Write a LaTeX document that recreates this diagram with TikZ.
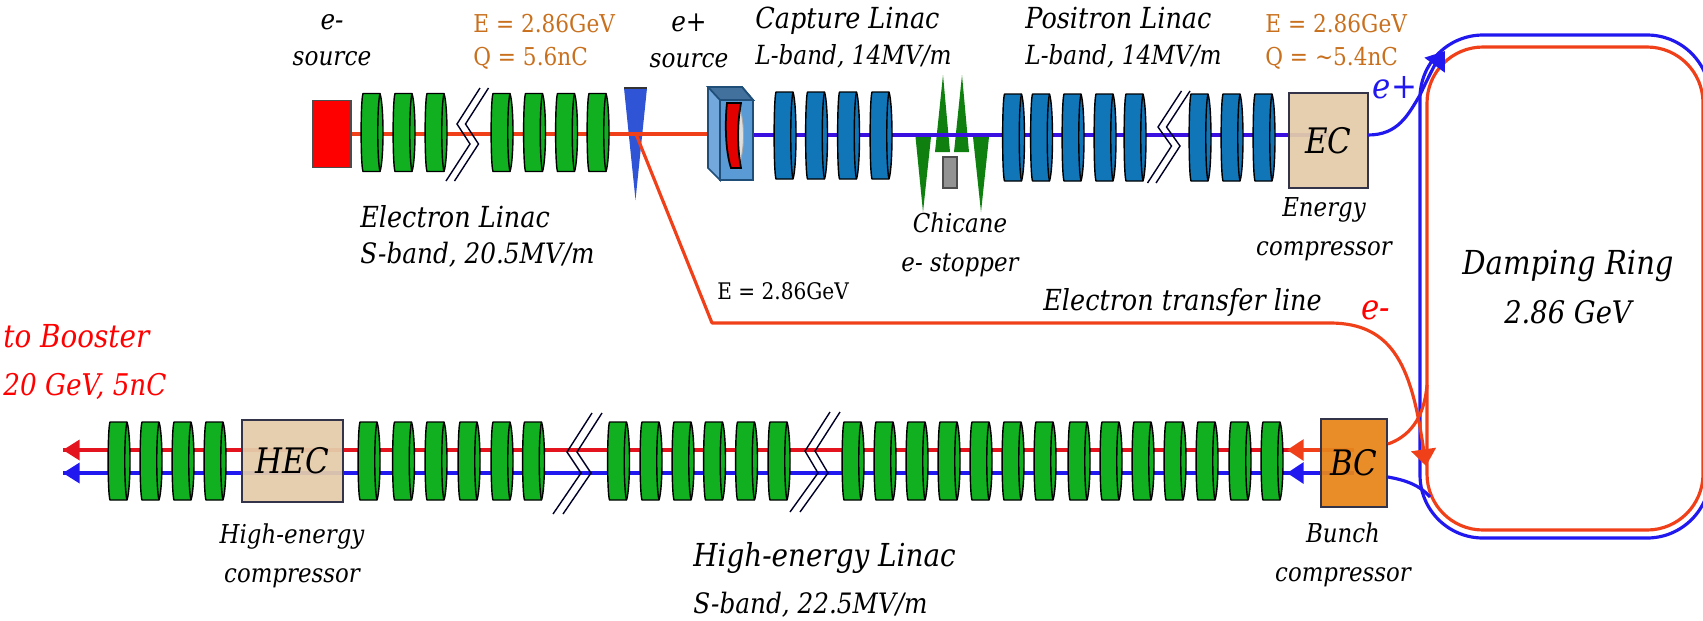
\documentclass[tikz,border=0pt]{standalone}
\usepackage{fontspec}
\setmainfont{DejaVu Serif}[FakeStretch=0.88]
\usetikzlibrary{arrows.meta, backgrounds}

\definecolor{cellgreen}{HTML}{10B020}
\definecolor{cellblue}{HTML}{1076B8}
\definecolor{boxtan}{HTML}{E3CCAA}
\definecolor{boxorange}{HTML}{E8861C}
\definecolor{boxedge}{HTML}{33334A}
\definecolor{beamred}{HTML}{F0401A}
\definecolor{rowred}{HTML}{E4141E}
\definecolor{beamblue}{HTML}{2018EE}
\definecolor{linacblue}{HTML}{3A10E0}
\definecolor{volt}{HTML}{C8701E}
\definecolor{chicgreen}{HTML}{0F7F0F}
\definecolor{wedgeblue}{HTML}{2F55D6}
\definecolor{ptfront}{HTML}{5B9BD5}
\definecolor{ptside}{HTML}{72A8DC}
\definecolor{pttop}{HTML}{41719C}
\definecolor{ptedge}{HTML}{1F4E79}

\newcommand{\namesize}{\fontsize{16.5}{20.5}\selectfont}
\newcommand{\bandsize}{\fontsize{15}{20.5}\selectfont}
% x, y, half height, colour
\newcommand{\cavity}[4]{
  \draw[black, line width=0.8pt, line join=round, fill=#4] (#1-9,#2-#3) .. controls (#1-11.5,#2-#3+7) and (#1-11.5,#2+#3-7) .. (#1-9,#2+#3)
    -- (#1+8,#2+#3) .. controls (#1+12,#2+#3-12) and (#1+12,#2-#3+12) .. (#1+8,#2-#3) -- cycle;
  \draw[black, line width=0.8pt] (#1+8,#2-#3) .. controls (#1+5,#2-#3+12) and (#1+5,#2+#3-12) .. (#1+8,#2+#3);
}

\tikzset{
  block/.style={draw=boxedge, line width=1pt, inner sep=0pt, fill=boxtan, fill opacity=0.94, text opacity=1,
    font=\itshape\fontsize{20}{24}\selectfont},
  lbl/.style={inner sep=0pt, font=\itshape\bandsize},
  small/.style={inner sep=0pt, font=\itshape\fontsize{14.8}{22}\selectfont},
  energy/.style={inner sep=0pt, text=volt, font=\fontsize{14}{18.5}\selectfont},
  redbeam/.style={beamred, line width=1.8pt},
  bluebeam/.style={beamblue, line width=1.8pt},
  gap/.style={line width=0.8pt, black!85!blue}
}

\begin{document}
\begin{tikzpicture}[x=0.02cm, y=-0.02cm]
\useasboundingbox (0,0) rectangle (1703,620);
\clip (0,0) rectangle (1703,620);

% Electron Linac
\node[draw=black!70, line width=1pt, fill=red, minimum width=0.76cm, minimum height=1.34cm, inner sep=0pt] (esource) at (332,134) {};
\foreach \x in {372,404,436,502,534.5,566.5,598} {
  \cavity{\x}{132.5}{39}{cellgreen}
}

% Positron source
\fill[black!80] (624,87) rectangle (647,89);
\coordinate (split) at (636,134);
\coordinate (ptin) at (708,134);
\draw[line width=1pt, fill=ptside, draw=ptedge] (708,87) -- (742,87) -- (753,100) -- (720,100) -- (720,180) -- (708,168) -- cycle;
\draw[line width=1pt, fill=pttop, draw=ptedge] (708,87) -- (742,87) -- (753,100) -- (720,100) -- cycle;
\node[draw=ptedge, line width=1pt, fill=ptfront, minimum width=0.66cm, minimum height=1.6cm, inner sep=0pt] (ptbox) at (736.5,140) {};
\draw[gray!70, fill=gray!25, line width=0.5pt] (739,104) .. controls (745,125) and (745,146) .. (739,167) -- cycle;
\draw[black, fill=red!90!black, line width=1pt] (727,103) -- (741,103) .. controls (737,125) and (737,146) .. (741,168) -- (731,168) .. controls (725,150) and (725,120) .. (727,103) -- cycle;
\coordinate (ptout) at (753,135);

% Capture and Positron Linac
\foreach \x in {785,816.5,848.5,881} {
  \cavity{\x}{135.5}{43.5}{cellblue}
}
\foreach \x in {1013.5,1041.5,1073,1105,1135,1200,1232,1264} {
  \cavity{\x}{137.5}{43.5}{cellblue}
}
\node[block, minimum width=1.58cm, minimum height=1.9cm] (EC) at (1328.5,140.5) {EC};

% Chicane
\node[draw=black!70, line width=1pt, fill=gray!85, minimum width=0.28cm, minimum height=0.62cm, inner sep=0pt] (stopper) at (950,172.5) {};

% High-energy Linac
\foreach \x in {119,151,183,215,369,403.5,436,469,502,533.5,618.5,651,683,714.5,746.5,779} {
  \cavity{\x}{461}{39}{cellgreen}
}
\foreach \x in {853,885,917,949,981,1013,1045,1079,1111,1143,1175,1207,1240,1272} {
  \cavity{\x}{461}{39}{cellgreen}
}
\node[block, minimum width=2.02cm, minimum height=1.64cm] (HEC) at (292.5,461) {HEC};
\node[block, fill=boxorange, minimum width=1.32cm, minimum height=1.76cm] (BC) at (1354,463) {BC};

\coordinate (redend) at (63,450);
\coordinate (blueend) at (63,473);
\coordinate (redtip) at (1287,450);
\coordinate (bluetip) at (1287,473);

\begin{pgfonlayer}{background}
  % Chicane magnets and target
  \fill[chicgreen] (915.5,137) -- (931,137) -- (923,212) -- cycle;
  \fill[chicgreen] (973,137) -- (989,137) -- (981,212) -- cycle;
  \fill[chicgreen] (935,152) -- (950,152) -- (943,75) -- cycle;
  \fill[chicgreen] (954,152) -- (969,152) -- (962,75) -- cycle;
  \fill[wedgeblue] (624,88) -- (647,88) -- (635.5,200) -- cycle;
  % Beam lines
  \draw[redbeam] (esource) -- (ptin);
  \draw[linacblue, line width=1.8pt] (ptout) -- (ptout -| EC);
  \draw[rowred, line width=1.8pt] (redend -| BC) -- (redend);
  \draw[bluebeam] (blueend -| BC) -- (blueend);
\end{pgfonlayer}

% Line breaks
\foreach \dx in {0,8.5} {
  \draw[gap] (480+\dx,88) -- (457+\dx,124) -- (470+\dx,144) -- (446+\dx,181);
  \draw[gap] (1181.5+\dx,91) -- (1158+\dx,127) -- (1171.5+\dx,146) -- (1147.5+\dx,183);
}
\foreach \dx in {0,10} {
  \draw[gap] (592+\dx,413) -- (567+\dx,452) -- (581+\dx,473) -- (553+\dx,514);
  \draw[gap] (830+\dx,412) -- (805+\dx,451) -- (818+\dx,473) -- (790+\dx,512);
}

% Damping Ring
\draw[bluebeam, rounded corners=1.26cm] (1420,35) rectangle (1710,538);
\draw[redbeam, rounded corners=1.12cm] (1427,47) rectangle (1703,530);

% Transfer line and arrows
\coordinate (bend) at (712,323);
\coordinate (inject) at (1426,466);
\coordinate (ecexit) at (1368,135);
\coordinate (eplus) at (1445,51);
\draw[redbeam, line join=round, -{Triangle[length=9.5pt,width=14pt]}] (split) -- (bend) -- (1330,323) .. controls (1395,323) and (1412,370) .. (inject);
\draw[bluebeam, -{Triangle[length=10pt,width=14pt]}] (ecexit) .. controls (1398,135) and (1408,115) .. (1420,95) .. controls (1426,82) and (1434,66) .. (eplus);
\draw[redbeam] (BC.east |- 0,444) .. controls (1408,437) and (1424,420) .. (1427,385);
\draw[bluebeam] (BC.east |- 0,477) .. controls (1405,480) and (1420,485) .. (1430,497);
\draw[beamred, line width=1.8pt, -{Triangle[length=9.5pt,width=12pt]}] (BC.west |- redtip) -- (redtip);
\draw[bluebeam, -{Triangle[length=9.5pt,width=12pt]}] (BC.west |- bluetip) -- (bluetip);
\draw[rowred, line width=0pt, -{Triangle[length=9.5pt,width=12pt]}] (79,450) -- (redend);
\draw[beamblue, line width=0pt, -{Triangle[length=9.5pt,width=12pt]}] (79,473) -- (blueend);

% Labels
\node[lbl, align=center] (esrclbl) at (332,40.5) {\fontsize{16}{20.5}\selectfont e-\\source};
\node[energy, anchor=west, align=left] (eneA) at (473,42) {E = 2.86GeV\\Q = 5.6nC};
\node[lbl, align=center] (psrclbl) at (689,40.5) {\fontsize{16}{20.5}\selectfont e+\\source};
\node[lbl, anchor=west, align=left] (captlbl) at (755,38) {\namesize Capture Linac\\\bandsize L-band, 14MV/m};
\node[lbl, anchor=west, align=left] (posilbl) at (1025,38) {\namesize Positron Linac\\\bandsize L-band, 14MV/m};
\node[energy, anchor=west, align=left] (eneB) at (1265,42) {E = 2.86GeV\\Q = \textasciitilde5.4nC};
\node[inner sep=0pt, text=beamblue, font=\itshape\fontsize{20}{24}\selectfont] (eplbl) at (1395,88) {e+};
\node[small, align=center] (eclbl) at (1324,229) {Energy\\compressor};
\node[small, align=center] (chiclbl) at (960,245) {Chicane\\e- stopper};
\node[lbl, anchor=west, align=left] (elinlbl) at (360,236) {\namesize Electron Linac\\\fontsize{16}{20.5}\selectfont S-band, 20.5MV/m};
\node[inner sep=0pt, anchor=west, font=\fontsize{13}{16}\selectfont] (enelbl) at (717,291) {E = 2.86GeV};
\node[lbl, anchor=west, font=\itshape\namesize] (translbl) at (1043,302) {Electron transfer line};
\node[inner sep=0pt, text=red, font=\itshape\fontsize{20}{24}\selectfont] (emlbl) at (1376,310) {e-};
\node[lbl, align=center] (ringlbl) at (1568,287) {\fontsize{18.8}{28}\selectfont Damping Ring\\[7.4pt]\fontsize{17.7}{28}\selectfont 2.86 GeV};
\node[lbl, anchor=west, align=left, text=red] (boostlbl) at (3,362) {\fontsize{18}{27.5}\selectfont to Booster\\[6.8pt]\fontsize{17}{27.5}\selectfont 20 GeV, 5nC};
\node[small, align=center] (heclbl) at (292,556) {High-energy\\compressor};
\node[lbl, anchor=west, align=left] (helbl) at (693,580) {\fontsize{18}{26.5}\selectfont High-energy Linac\\[6pt]\fontsize{16}{31}\selectfont S-band, 22.5MV/m};
\node[small, align=center] (bclbl) at (1343,555) {Bunch\\compressor};
\end{tikzpicture}
\end{document}
